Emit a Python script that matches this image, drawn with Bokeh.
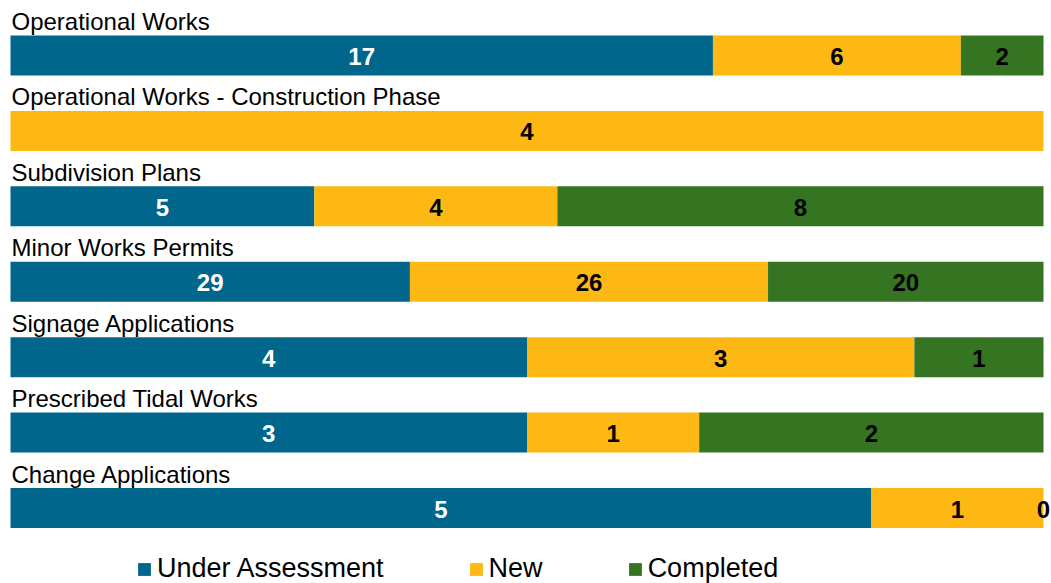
import numpy as np
from bokeh.plotting import figure
from bokeh.models import ColumnDataSource, Range1d, Legend, LegendItem
from bokeh.core.properties import value
from bokeh.embed import file_html
from bokeh.resources import INLINE

categories = ["Operational Works", "Operational Works - Construction Phase",
              "Subdivision Plans", "Minor Works Permits", "Signage Applications",
              "Prescribed Tidal Works", "Change Applications"]
under_assessment = [17, None, 5, 29, 4, 3, 5]
new = [6, 4, 4, 26, 3, 1, 1]
completed = [2, None, 8, 20, 1, 2, 0]
series_names = ["Under Assessment", "New", "Completed"]
colors = ["#00668C", "#FDB813", "#357522"]
label_colors = ["white", "black", "black"]

FONT = "Liberation Sans"

series = [under_assessment, new, completed]
vals = np.array([[0 if v is None else v for v in s] for s in series], dtype=float)
totals = vals.sum(axis=0)
fracs = vals / totals
cum = np.vstack([np.zeros(len(categories)), np.cumsum(fracs, axis=0)])
ypos = np.arange(len(categories))

p = figure(width=1051, height=583, output_backend="svg", toolbar_location=None,
           x_axis_location=None, y_axis_location=None, min_border=0,
           x_range=Range1d(-10 / 1033, 1 + 8 / 1033),
           y_range=Range1d(7.001, -0.729))
p.xgrid.visible = False
p.ygrid.visible = False
p.outline_line_color = None
p.background_fill_color = "white"
p.border_fill_color = "white"

renderers = []
for i, name in enumerate(series_names):
    src = ColumnDataSource(dict(y=ypos, left=cum[i], right=cum[i + 1]))
    r = p.hbar(y="y", left="left", right="right", height=0.53, source=src,
               fill_color=colors[i], line_color=None)
    renderers.append(r)

    lx, ly, lt = [], [], []
    for j, v in enumerate(series[i]):
        if v is None:
            continue
        lx.append((cum[i][j] + cum[i + 1][j]) / 2)
        ly.append(ypos[j])
        lt.append(str(v))
    tsrc = ColumnDataSource(dict(x=lx, y=ly, t=lt))
    p.text(x="x", y="y", text="t", source=tsrc, text_align="center",
           text_baseline="middle", text_font=value(FONT), text_font_style="bold",
           text_font_size="24px", text_color=label_colors[i], y_offset=1)

csrc = ColumnDataSource(dict(x=[0] * len(categories), y=ypos, t=categories))
p.text(x="x", y="y", text="t", source=csrc, text_align="left",
       text_baseline="alphabetic", text_font=value(FONT), text_font_size="24px",
       text_color="black", x_offset=1, y_offset=-34)

legend = Legend(items=[LegendItem(label=n, renderers=[r]) for n, r in zip(series_names, renderers)],
                orientation="horizontal", location=(136, -1),
                glyph_width=16, glyph_height=16, label_standoff=5, spacing=84,
                label_text_font=FONT, label_text_font_size="27px", label_text_color="black",
                padding=0, margin=0, border_line_alpha=0, background_fill_alpha=0)
p.add_layout(legend)

open("out.html", "w").write(file_html(p, INLINE))
